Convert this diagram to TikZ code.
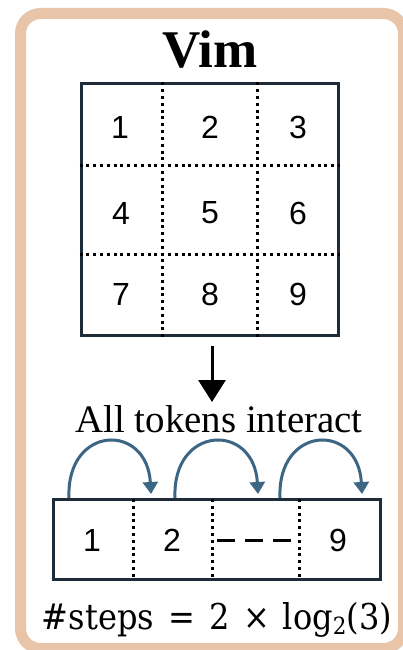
\documentclass[tikz,border=0pt]{standalone}
\usepackage{fontspec}
\setmainfont{Liberation Serif}
\newfontfamily\numfont{Liberation Sans}
\newfontfamily\formfont{DejaVu Serif}
\usetikzlibrary{calc,arrows.meta}
\definecolor{frametan}{HTML}{E8C5A9}
\definecolor{gridnavy}{HTML}{1E2B38}
\definecolor{arcblue}{HTML}{3D6584}
\tikzset{
  cellnum/.style={font=\numfont\fontsize{32}{34}\selectfont, inner sep=0pt},
  gridbox/.style={draw=gridnavy, line width=3pt, fill=white, inner sep=0pt, rectangle},
  dotline/.style={line width=3pt, dash pattern=on 3pt off 3.8pt, black},
  hoparc/.style={arcblue, line width=3pt, -{Triangle[width=15pt,length=12pt]}},
}
\begin{document}
\begin{tikzpicture}[x=1pt,y=-1pt]
\useasboundingbox (0,0) rectangle (403,650);
\clip (0,0) rectangle (403,650);
\fill[white] (0,0) rectangle (403,650);
\draw[frametan, line width=11pt, rounded corners=20pt] (20.5,13.5) rectangle (403.5,648.5);

% title
\node[font=\bfseries\fontsize{53}{56}\selectfont, inner sep=0pt, anchor=base] (title) at (210,68) {Vim};

% 3x3 grid
\node[gridbox, minimum width=257pt, minimum height=251pt] (grid) at (209.5,209.5) {};
\foreach \f in {0.319,0.685} {
  \draw[dotline] ($(grid.north west)!\f!(grid.north east)$) -- ($(grid.south west)!\f!(grid.south east)$);
}
\foreach \f in {0.327,0.677} {
  \draw[dotline] ($(grid.north west)!\f!(grid.south west)$) -- ($(grid.north east)!\f!(grid.south east)$);
}
\node[cellnum] (c1) at (120,127) {1};
\node[cellnum] (c2) at (210,127) {2};
\node[cellnum] (c3) at (298,127) {3};
\node[cellnum] (c4) at (121,213) {4};
\node[cellnum] (c5) at (210,213) {5};
\node[cellnum] (c6) at (298,213) {6};
\node[cellnum] (c7) at (121,294) {7};
\node[cellnum] (c8) at (210,294) {8};
\node[cellnum] (c9) at (298,294) {9};

% down arrow
\coordinate (arrtop) at (212,346);
\coordinate (arrtip) at (212,402);
\draw[line width=3pt, -{Triangle[width=27pt,length=22pt]}] (arrtop) -- (arrtip);

\node[inner sep=0pt, anchor=base] (label) at (219,432) {\resizebox{287pt}{27pt}{\fontsize{36}{38}\selectfont All tokens interact}};

% strip
\node[gridbox, minimum width=327pt, minimum height=80pt] (strip) at (216.5,539) {};
\foreach \x in {133,212,299} {
  \draw[dotline] (\x,499) -- (\x,579);
}
\node[cellnum] (s1) at (92,540) {1};
\node[cellnum] (s2) at (172,540) {2};
\node[cellnum] (s9) at (338,540) {9};
\coordinate (dA) at (217,540);
\coordinate (dB) at (292,540);
\draw[line width=3pt, dash pattern=on 18pt off 10pt] (dA) -- (dB);

% hop arcs
\coordinate (a1s) at (69,498); \coordinate (a1e) at (151,494);
\coordinate (a2s) at (175,498); \coordinate (a2e) at (258,494);
\coordinate (a3s) at (280,498); \coordinate (a3e) at (362,494);
\draw[hoparc] (a1s) .. controls (66,425) and (147,422) .. (a1e);
\draw[hoparc] (a2s) .. controls (172,425) and (254,422) .. (a2e);
\draw[hoparc] (a3s) .. controls (277,425) and (358,422) .. (a3e);

% formula
\node[inner sep=0pt, anchor=base] (formula) at (217,629) {\resizebox{350pt}{27pt}{\formfont\fontsize{30}{32}\selectfont \#steps\hspace{0.45em}=\hspace{0.45em}2\hspace{0.4em}×\hspace{0.4em}log\raisebox{-5pt}{\fontsize{20}{22}\selectfont 2}(3)}};
\end{tikzpicture}
\end{document}
